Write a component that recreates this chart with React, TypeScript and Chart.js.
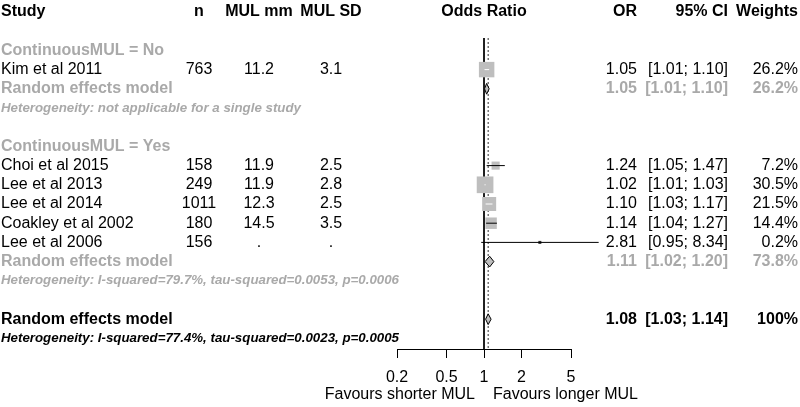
import React, { useEffect, useRef } from "react";
import { Chart, registerables } from "chart.js";

Chart.register(...registerables);

// ---------- data ----------
const studyLabels = ["Kim et al 2011", "Choi et al 2015", "Lee et al 2013", "Lee et al 2014", "Coakley et al 2002", "Lee et al 2006"];
const studyGroups = ["No", "Yes", "Yes", "Yes", "Yes", "Yes"];
const sampleSizes = ["763", "158", "249", "1011", "180", "156"];
const mulMm = ["11.2", "11.9", "11.9", "12.3", "14.5", "."];
const mulSd = ["3.1", "2.5", "2.8", "2.5", "3.5", "."];
const oddsRatios = [1.05, 1.24, 1.02, 1.1, 1.14, 2.81];
const ciLower = [1.01, 1.05, 1.01, 1.03, 1.04, 0.95];
const ciUpper = [1.1, 1.47, 1.03, 1.17, 1.27, 8.34];
const weights = [26.2, 7.2, 30.5, 21.5, 14.4, 0.2];

const groupNames = ["No", "Yes"];
const groupOR = [1.05, 1.11];
const groupLower = [1.01, 1.02];
const groupUpper = [1.1, 1.2];
const groupWeights = [26.2, 73.8];
const groupHet = [
  "Heterogeneity: not applicable for a single study",
  "Heterogeneity: I-squared=79.7%, tau-squared=0.0053, p=0.0006",
];

const overallOR = 1.08;
const overallLower = 1.03;
const overallUpper = 1.14;
const overallWeight = 100;
const overallHet = "Heterogeneity: I-squared=77.4%, tau-squared=0.0023, p=0.0005";

const xTicks = [0.2, 0.5, 1, 2, 5];
const xTickLabels = ["0.2", "0.5", "1", "2", "5"];
const favoursLeft = "Favours shorter MUL";
const favoursRight = "Favours longer MUL";
const headers = ["Study", "n", "MUL mm", "MUL SD", "Odds Ratio", "OR", "95% CI", "Weights"];
const groupVar = "ContinuousMUL";
const summaryLabel = "Random effects model";

// ---------- layout / style ----------
const FONT = "'Liberation Sans', Arial, Helvetica, sans-serif";
const GRAY = "#a9a9a9";
const SQUARE = "#bebebe";
const Y_MIN = 1.354;
const Y_MAX = 17.552;
const DIAMOND_H = 0.28;

// rows (line numbers)
type Row = { kind: string; idx: number; line: number };
const rows: Row[] = [];
let cursor = 2;
const studyLine: number[] = new Array(studyLabels.length).fill(0);
const groupSumLine: number[] = [];
groupNames.forEach((g, gi) => {
  rows.push({ kind: "glabel", idx: gi, line: cursor++ });
  studyLabels.forEach((_, si) => {
    if (studyGroups[si] === g) {
      studyLine[si] = cursor;
      rows.push({ kind: "study", idx: si, line: cursor++ });
    }
  });
  groupSumLine[gi] = cursor;
  rows.push({ kind: "gsum", idx: gi, line: cursor++ });
  rows.push({ kind: "ghet", idx: gi, line: cursor++ });
  cursor++;
});
const overallLine = cursor;
rows.push({ kind: "osum", idx: 0, line: cursor++ });
rows.push({ kind: "ohet", idx: 0, line: cursor++ });

const fmt2 = (v: number) => v.toFixed(2);
const fmtW = (w: number) => (w === 100 ? "100%" : w.toFixed(1) + "%");
const fmtCI = (l: number, u: number) => `[${fmt2(l)}; ${fmt2(u)}]`;

const squareSide = (w: number) => 3.02 * Math.sqrt(w);

const textPlugin = {
  id: "forestText",
  afterDraw(chart: any) {
    const ctx = chart.ctx as CanvasRenderingContext2D;
    const ys = chart.scales.y;
    const xs = chart.scales.x;
    const Y = (l: number) => ys.getPixelForValue(l);
    const t = (s: string, x: number, y: number, align: CanvasTextAlign, font: string, color: string) => {
      ctx.save();
      ctx.font = font;
      ctx.fillStyle = color;
      ctx.textAlign = align;
      ctx.textBaseline = "middle";
      ctx.fillText(s, x, y);
      ctx.restore();
    };
    const reg = `16px ${FONT}`;
    const bold = `bold 16px ${FONT}`;
    const het = `italic bold 13.3px ${FONT}`;
    const colX = { study: 1, n: 199, mm: 259, sd: 331, or: 637, ci: 728, w: 798 };
    const hy = Y(0);
    t(headers[0], colX.study, hy, "left", bold, "#000");
    t(headers[1], colX.n, hy, "center", bold, "#000");
    t(headers[2], colX.mm, hy, "center", bold, "#000");
    t(headers[3], colX.sd, hy, "center", bold, "#000");
    t(headers[4], (chart.chartArea.left + chart.chartArea.right) / 2, hy, "center", bold, "#000");
    t(headers[5], colX.or, hy, "right", bold, "#000");
    t(headers[6], colX.ci, hy, "right", bold, "#000");
    t(headers[7], colX.w, hy, "right", bold, "#000");

    rows.forEach((r) => {
      const y = Y(r.line);
      if (r.kind === "glabel") {
        t(`${groupVar} = ${groupNames[r.idx]}`, colX.study, y, "left", bold, GRAY);
      } else if (r.kind === "study") {
        const i = r.idx;
        t(studyLabels[i], colX.study, y, "left", reg, "#000");
        t(sampleSizes[i], colX.n, y, "center", reg, "#000");
        t(mulMm[i], colX.mm, y, "center", reg, "#000");
        t(mulSd[i], colX.sd, y, "center", reg, "#000");
        t(fmt2(oddsRatios[i]), colX.or, y, "right", reg, "#000");
        t(fmtCI(ciLower[i], ciUpper[i]), colX.ci, y, "right", reg, "#000");
        t(fmtW(weights[i]), colX.w, y, "right", reg, "#000");
      } else if (r.kind === "gsum") {
        const i = r.idx;
        t(summaryLabel, colX.study, y, "left", bold, GRAY);
        t(fmt2(groupOR[i]), colX.or, y, "right", bold, GRAY);
        t(fmtCI(groupLower[i], groupUpper[i]), colX.ci, y, "right", bold, GRAY);
        t(fmtW(groupWeights[i]), colX.w, y, "right", bold, GRAY);
      } else if (r.kind === "ghet") {
        t(groupHet[r.idx], colX.study, y, "left", het, GRAY);
      } else if (r.kind === "osum") {
        t(summaryLabel, colX.study, y, "left", bold, "#000");
        t(fmt2(overallOR), colX.or, y, "right", bold, "#000");
        t(fmtCI(overallLower, overallUpper), colX.ci, y, "right", bold, "#000");
        t(fmtW(overallWeight), colX.w, y, "right", bold, "#000");
      } else if (r.kind === "ohet") {
        t(overallHet, colX.study, y, "left", het, "#000");
      }
    });

    const x1 = xs.getPixelForValue(1);
    const fy = chart.chartArea.bottom + 46;
    t(favoursLeft, x1 - 9, fy, "right", reg, "#000");
    t(favoursRight, x1 + 9, fy, "left", reg, "#000");
  },
};

function diamond(est: number, lo: number, hi: number, line: number) {
  return [
    { x: lo, y: line },
    { x: est, y: line - DIAMOND_H },
    { x: hi, y: line },
    { x: est, y: line + DIAMOND_H },
    { x: lo, y: line },
  ];
}

export default function App() {
  const ref = useRef<HTMLCanvasElement | null>(null);
  useEffect(() => {
    if (!ref.current) return;
    const datasets: any[] = [];
    datasets.push({
      data: [{ x: 1, y: Y_MIN }, { x: 1, y: Y_MAX }],
      showLine: true,
      borderColor: "#000",
      borderWidth: 1,
      pointRadius: 0,
      order: 10,
      clip: false,
    });
    datasets.push({
      data: [{ x: overallOR, y: Y_MIN }, { x: overallOR, y: Y_MAX }],
      showLine: true,
      borderColor: "#333",
      borderWidth: 1,
      borderDash: [2, 2],
      pointRadius: 0,
      order: 10,
      clip: false,
    });
    datasets.push({
      data: oddsRatios.map((v, i) => ({ x: v, y: studyLine[i] })),
      pointStyle: "rect",
      pointRadius: weights.map((w) => Math.max(squareSide(w), 1.5) / Math.SQRT2),
      backgroundColor: SQUARE,
      borderColor: weights.map((w) => (squareSide(w) < 3 ? "#333" : SQUARE)),
      borderWidth: weights.map((w) => (squareSide(w) < 3 ? 1.5 : 0)),
      order: 5,
      clip: false,
    });
    oddsRatios.forEach((v, i) => {
      datasets.push({
        data: [{ x: ciLower[i], y: studyLine[i] }, { x: ciUpper[i], y: studyLine[i] }],
        showLine: true,
        borderWidth: 1,
        pointRadius: 0,
        order: 3,
        clip: false,
        borderColor: (c: any) => {
          const xs = c.chart.scales.x;
          if (!xs) return "#000";
          const half = squareSide(weights[i]) / 2;
          const cx = xs.getPixelForValue(v);
          const inside = xs.getPixelForValue(ciLower[i]) >= cx - half && xs.getPixelForValue(ciUpper[i]) <= cx + half;
          return inside ? "#ffffff" : "#000";
        },
      });
    });
    groupNames.forEach((_, gi) => {
      datasets.push({
        data: diamond(groupOR[gi], groupLower[gi], groupUpper[gi], groupSumLine[gi]),
        showLine: true,
        fill: "shape",
        backgroundColor: SQUARE,
        borderColor: "#000",
        borderWidth: 1,
        pointRadius: 0,
        order: 2,
        clip: false,
      });
    });
    datasets.push({
      data: diamond(overallOR, overallLower, overallUpper, overallLine),
      showLine: true,
      fill: "shape",
      backgroundColor: SQUARE,
      borderColor: "#000",
      borderWidth: 1,
      pointRadius: 0,
      order: 2,
      clip: false,
    });

    const chart = new Chart(ref.current, {
      type: "scatter",
      data: { datasets },
      options: {
        animation: false,
        responsive: false,
        layout: { padding: { left: 397, right: 229, top: 38, bottom: 0 } },
        plugins: { legend: { display: false }, tooltip: { enabled: false } },
        events: [],
        scales: {
          x: {
            type: "logarithmic",
            position: "bottom",
            min: 0.2,
            max: 5,
            afterBuildTicks: (s: any) => {
              s.ticks = xTicks.map((v) => ({ value: v }));
            },
            afterFit: (s: any) => {
              s.height = 58;
            },
            ticks: {
              autoSkip: false,
              maxRotation: 0,
              padding: 10,
              color: "#000",
              font: { family: FONT, size: 16 },
              callback: (_v: any, i: number) => xTickLabels[i],
            },
            grid: { display: true, drawOnChartArea: false, drawTicks: true, tickLength: 9, color: "#000" },
            border: { display: true, color: "#000", width: 1 },
          },
          y: {
            type: "linear",
            display: false,
            min: Y_MIN,
            max: Y_MAX,
            reverse: true,
          },
        },
      } as any,
      plugins: [textPlugin],
    });
    return () => chart.destroy();
  }, []);
  return (
    <div style={{ position: "fixed", left: 0, top: 0, width: 800, height: 407, background: "#fff" }}>
      <canvas ref={ref} width={800} height={407} style={{ display: "block" }} />
    </div>
  );
}
